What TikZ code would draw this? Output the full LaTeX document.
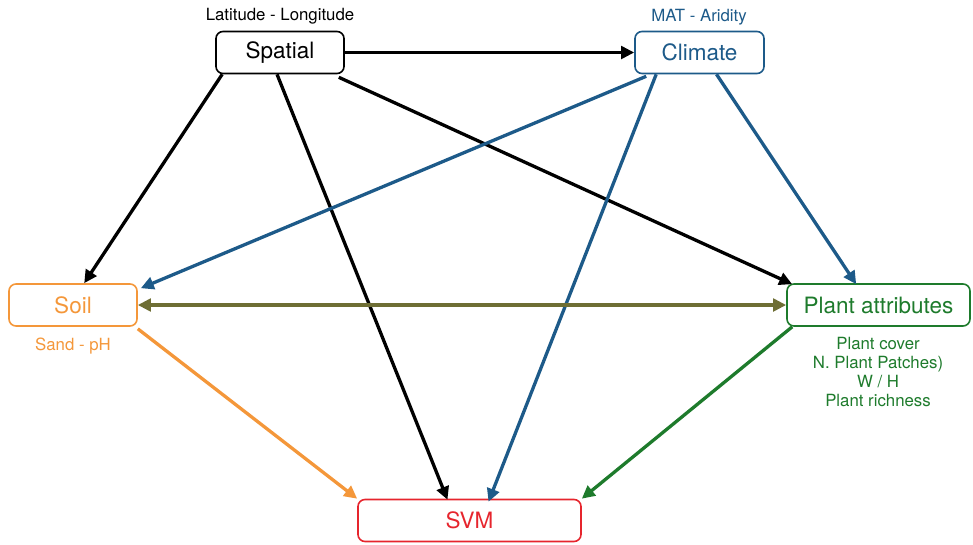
\documentclass[tikz,border=0pt]{standalone}
\usepackage{fontspec}
\setmainfont{TeX Gyre Heros}
\usetikzlibrary{arrows.meta}
\definecolor{cblue}{HTML}{1D5A89}
\definecolor{corange}{HTML}{F4973A}
\definecolor{colive}{HTML}{6E6E34}
\definecolor{cgreen}{HTML}{1E7B2C}
\definecolor{cred}{HTML}{E6252D}
\tikzset{
  box/.style={draw, line width=1.6pt, rounded corners=7pt, minimum height=42pt, inner sep=0pt, font=\fontsize{22.5}{26}\selectfont},
  lbl/.style={font=\fontsize{16.8}{19}\selectfont, align=center, inner sep=0pt},
  conn/.style={line width=3.3pt, -{Triangle[length=13pt,width=12.5pt]}},
}
\begin{document}
\begin{tikzpicture}[x=1pt,y=-1pt]
\useasboundingbox (0,0) rectangle (973,544);
\node[box, minimum width=128pt] (spatial) at (280,52.5) {Spatial};
\node[box, cblue, minimum width=129pt] (climate) at (699.5,52.5) {Climate};
\node[box, corange, minimum width=128pt] (soil) at (73,305) {Soil};
\node[box, cgreen, minimum width=183pt] (plant) at (878.5,305) {Plant attributes};
\node[box, cred, minimum width=223pt] (svm) at (469.5,520.5) {SVM};
\node[lbl] (lspatial) at (280,16) {Latitude - Longitude};
\node[lbl, cblue] (lclimate) at (699,17) {MAT - Aridity};
\node[lbl, corange] (lsoil) at (73,346) {Sand - pH};
\node[lbl, cgreen, anchor=north] (lplant) at (878,337) {Plant cover\\N. Plant Patches)\\W / H\\Plant richness};
% black
\draw[conn] (spatial.east) -- (climate.west);
\draw[conn] ([xshift=7pt]spatial.south west) -- ([xshift=76pt]soil.north west);
\draw[conn] ([xshift=-3pt]spatial.south) -- ([xshift=-22pt,yshift=-1pt]svm.north);
\draw[conn] ([xshift=-6pt,yshift=-3pt]spatial.south east) -- ([xshift=6pt,yshift=-1pt]plant.north west);
% blue
\draw[conn, cblue] ([xshift=12pt,yshift=-2pt]climate.south west) -- ([xshift=3pt,yshift=-5pt]soil.north east);
\draw[conn, cblue] ([xshift=22pt]climate.south west) -- ([xshift=19pt,yshift=-3pt]svm.north);
\draw[conn, cblue] ([xshift=17pt]climate.south) -- ([xshift=70pt,yshift=-1pt]plant.north west);
% olive
\draw[line width=3.3pt, colive, {Triangle[length=13pt,width=12.5pt]}-{Triangle[length=13pt,width=12.5pt]}] (soil.east) -- (plant.west);
% orange, green
\draw[conn, corange] ([yshift=-2pt]soil.south east) -- (svm.north west);
\draw[conn, cgreen] ([xshift=6pt]plant.south west) -- (svm.north east);
\end{tikzpicture}
\end{document}
